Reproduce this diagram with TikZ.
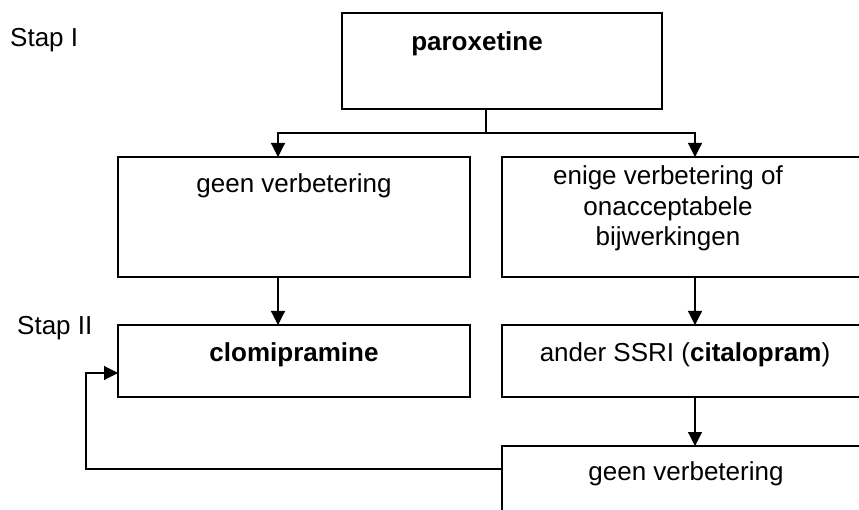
\documentclass[tikz,border=0pt]{standalone}
\usepackage{fontspec}
\setmainfont{Liberation Sans}
\usetikzlibrary{arrows.meta}

\begin{document}
\begin{tikzpicture}[x=1pt,y=-1pt,
  box/.style={draw,line width=1.2pt,inner sep=0pt,outer sep=0pt,anchor=north west},
  arr/.style={line width=1.2pt,-{Triangle[length=14pt,width=14pt]}},
  lbl/.style={inner sep=0pt,anchor=base,align=center,font=\fontsize{26}{30.5}\selectfont}]
\useasboundingbox (0,0) rectangle (859,510);
\clip (0,0) rectangle (859,510);
% boxes
\node[box,minimum width=320pt,minimum height=96pt] (parox) at (342,13) {};
\node[box,minimum width=352pt,minimum height=120pt] (geen1) at (118,157) {};
\node[box,minimum width=400pt,minimum height=120pt] (enige) at (502,157) {};
\node[box,minimum width=352pt,minimum height=72pt] (clomi) at (118,325) {};
\node[box,minimum width=400pt,minimum height=72pt] (ander) at (502,325) {};
\node[box,minimum width=400pt,minimum height=100pt] (geen2) at (502,446) {};
% texts
\node[lbl,anchor=base west] (stapI) at (10,47) {Stap I};
\node[lbl,anchor=base west] (stapII) at (17,335) {Stap II};
\node[lbl] (tparox) at (477,51) {\textbf{paroxetine}};
\node[lbl] (tgeen1) at (294,193) {geen verbetering};
\node[lbl] (tenige) at (668,246) {enige verbetering of\\onacceptabele\\bijwerkingen};
\node[lbl] (tclomi) at (294,362) {\textbf{clomipramine}};
\node[lbl] (tander) at (685,362) {ander SSRI (\textbf{citalopram})};
\node[lbl] (tgeen2) at (686,480) {geen verbetering};
% connectors
\coordinate (split) at (486,133);
\coordinate (lx) at (278,0);
\coordinate (rx) at (695,0);
\coordinate (fb) at (86,469);
\draw[line width=1.2pt] (parox.south -| split) -- (split);
\draw[arr] (split) -| (geen1.north -| lx);
\draw[arr] (split) -| (enige.north -| rx);
\draw[arr] (geen1.south -| lx) -- (clomi.north -| lx);
\draw[arr] (enige.south -| rx) -- (ander.north -| rx);
\draw[arr] (ander.south -| rx) -- (geen2.north -| rx);
\draw[arr] (geen2.west |- fb) -- (fb) |- ([yshift=-12pt]clomi.west);
\end{tikzpicture}
\end{document}
